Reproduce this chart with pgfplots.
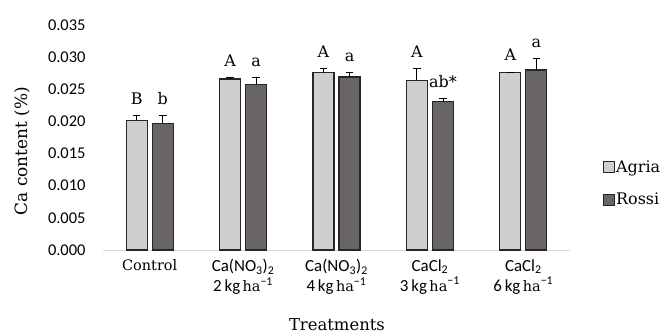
\documentclass[border=0pt]{standalone}
\usepackage{fontspec}
\setmainfont{DejaVu Serif}
\newfontfamily\calib{Carlito}
\usepackage{pgfplots}
\usepackage{pgfplotstable}
\pgfplotsset{compat=1.18}

\definecolor{agria}{HTML}{D0CECE}
\definecolor{rossi}{HTML}{6A6565}
\definecolor{barline}{HTML}{262626}
\definecolor{baseline}{HTML}{D9D9D9}

% x: treatment index; a/r: mean Ca content; ae/re: upper error
\pgfplotstableread{
x  a       ae      r       re
0  0.0202  0.0007  0.0197  0.0012
1  0.0266  0.0002  0.0258  0.0011
2  0.0276  0.0006  0.0269  0.0007
3  0.0264  0.0018  0.0231  0.0005
4  0.0276  0.0001  0.0280  0.0018
}\catable

% significance letters, set just above the top of each error bar
\pgfplotstableread{
x  ya      yr      la   lr
0  0.0209  0.0209  B    b
1  0.0268  0.0269  A    a
2  0.0282  0.0276  A    a
3  0.0282  0.0236  A    ab*
4  0.0277  0.0298  A    a
}\lettertable

% half the distance between the centres of the two bars of a group
\def\off{0.1392}

\newcommand{\lab}[2]{{\calib\fontsize{17}{20}\selectfont #1}\\{\calib\fontsize{17}{20}\selectfont #2\,kg}\,ha{\calib\fontsize{17}{20}\selectfont\textsuperscript{−1}}}

\begin{document}
\begin{tikzpicture}
\path[use as bounding box] (-103bp,-86bp) rectangle (559bp,250bp);
\begin{axis}[
  at={(0,0)}, anchor=south west,
  width=467bp, height=225bp, scale only axis,
  xmin=-0.5, xmax=4.5, ymin=0, ymax=0.035,
  axis x line*=bottom, axis y line*=left,
  x axis line style={draw=baseline, line width=1bp},
  y axis line style={draw=none},
  major tick length=0pt,
  xtick={0,1,2,3,4},
  xticklabels={Control,
    {\lab{Ca(NO\textsubscript{3})\textsubscript{2}}{2}},
    {\lab{Ca(NO\textsubscript{3})\textsubscript{2}}{4}},
    {\lab{CaCl\textsubscript{2}}{3}},
    {\lab{CaCl\textsubscript{2}}{6}}},
  xticklabel style={align=center, font=\fontsize{14.5}{20}\selectfont, anchor=north, yshift=-6bp},
  ytick={0,0.005,0.010,0.015,0.020,0.025,0.030,0.035},
  scaled y ticks=false,
  yticklabel style={/pgf/number format/fixed, /pgf/number format/fixed zerofill,
    /pgf/number format/precision=3, /pgf/number format/assume math mode=true,
    font=\calib\fontsize{16.5}{17}\selectfont, xshift=-14bp},
  ylabel={Ca content (\%)},
  ylabel style={at={(axis description cs:-0.1734,0.44)}, anchor=center,
    font=\fontsize{17}{20}\selectfont},
  xlabel={Treatments},
  xlabel style={at={(axis description cs:0.501,-0.332)}, anchor=center,
    font=\fontsize{16.5}{20}\selectfont},
  legend style={at={(axis description cs:1.07,0.296)}, anchor=west, draw=none, fill=none,
    font=\fontsize{16}{19}\selectfont, row sep=16bp, inner sep=0pt,
    cells={anchor=west}, nodes={inner sep=1.5bp}},
]
\addplot[ybar, bar width=21bp, bar shift=0pt, fill=agria, draw=barline, line width=1.2bp,
  error bars/y dir=plus, error bars/y explicit,
  error bars/error bar style={black, line width=0.8bp},
  error bars/error mark options={black, mark size=3.8bp, line width=0.8bp, rotate=90},
  legend image code/.code={\draw[fill=agria, draw=barline, line width=0.8bp] (0bp,-5.5bp) rectangle (11bp,5.5bp);}]
  table[x expr=\thisrow{x}-\off, y=a, y error=ae] {\catable};
\addlegendentry{Agria}
\addplot[ybar, bar width=21bp, bar shift=0pt, fill=rossi, draw=barline, line width=1.2bp,
  error bars/y dir=plus, error bars/y explicit,
  error bars/error bar style={black, line width=0.8bp},
  error bars/error mark options={black, mark size=3.8bp, line width=0.8bp, rotate=90},
  legend image code/.code={\draw[fill=rossi, draw=barline, line width=0.8bp] (0bp,-5.5bp) rectangle (11bp,5.5bp);}]
  table[x expr=\thisrow{x}+\off, y=r, y error=re] {\catable};
\addlegendentry{Rossi}
\addplot[forget plot, draw=none, mark=none, nodes near coords, point meta=explicit symbolic,
  every node near coord/.append style={anchor=base, yshift=11bp,
    font=\fontsize{16}{19}\selectfont}]
  table[x expr=\thisrow{x}-\off, y=ya, meta=la] {\lettertable};
\addplot[forget plot, draw=none, mark=none, nodes near coords, point meta=explicit symbolic,
  every node near coord/.append style={anchor=base, yshift=11bp,
    font=\fontsize{16}{19}\selectfont}]
  table[x expr=\thisrow{x}+\off, y=yr, meta=lr] {\lettertable};
\end{axis}
\end{tikzpicture}
\end{document}
